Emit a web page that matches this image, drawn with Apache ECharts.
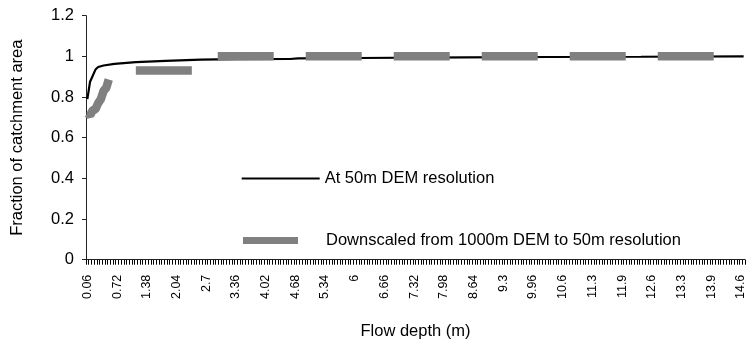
<!DOCTYPE html>
<html>
<head>
<meta charset="utf-8">
<script src="https://cdn.jsdelivr.net/npm/echarts@6/dist/echarts.min.js"></script>
<style>
  html, body { margin: 0; padding: 0; background: #fff; }
  #chart { width: 749px; height: 341px; }
</style>
</head>
<body>
<div id="chart"></div>
<script>
// flow depth categories: 0.06 m steps, 0.06 .. 14.64
const depthCategories = [];
for (let i = 1; i <= 244; i++) depthCategories.push((i * 6 / 100).toFixed(2));

// At 50m DEM resolution (read at selected depths)
const fineDepth = ["0.06", "0.12", "0.18", "0.24", "0.30", "0.42", "0.66", "1.14", "1.80",
  "2.58", "3.36", "4.56", "4.74", "6.06", "8.46", "10.32", "12.36", "14.64"];
const fineValues = [0.79, 0.875, 0.905, 0.935, 0.948, 0.955, 0.963, 0.972, 0.978,
  0.984, 0.986, 0.987, 0.99, 0.992, 0.995, 0.997, 0.998, 1.0];

// Downscaled from 1000m DEM to 50m resolution
const coarseDepth = ["0.06", "0.12", "0.18", "0.24", "0.30", "0.36", "0.42", "0.48", "0.54",
  "0.66", "2.52", "2.82", "14.64"];
const coarseValues = [0.72, 0.71, 0.735, 0.74, 0.77, 0.79, 0.83, 0.845, 0.89,
  0.93, 0.93, 1.0, 1.0];

const yTicks = { min: 0, max: 1.2, interval: 0.2 };

const font = "Liberation Sans";

const chart = echarts.init(document.getElementById("chart"));
const option = {
  animation: false,
  textStyle: { fontFamily: font, color: "#000" },
  grid: { left: 86, right: 4, top: 15.7, bottom: 81.3, outerBoundsMode: "none", containLabel: false },
  legend: [
    {
      data: ["At 50m DEM resolution"],
      left: 241.7, top: 170, padding: 0,
      icon: "rect", itemWidth: 78, itemHeight: 2,
      textStyle: { fontFamily: font, fontSize: 16.5, color: "#000" },
    },
    {
      data: ["Downscaled from 1000m DEM to 50m resolution"],
      left: 243, top: 232, padding: 0,
      icon: "rect", itemWidth: 55, itemHeight: 7,
      textStyle: { fontFamily: font, fontSize: 16.5, color: "#000", padding: [0, 0, 0, 23] },
    },
  ],
  xAxis: {
    type: "category",
    data: depthCategories,
    name: "Flow depth (m)",
    nameLocation: "middle",
    nameGap: 63,
    nameTextStyle: { fontFamily: font, fontSize: 16.5, color: "#000" },
    axisLine: { onZero: false, lineStyle: { color: "#222" } },
    axisTick: { show: true, interval: 0, length: 5, lineStyle: { color: "#000" } },
    axisLabel: {
      interval: 10,
      rotate: 90,
      margin: 15,
      color: "#000",
      fontFamily: font,
      fontSize: 12.5,
      formatter: (v) => String(Number(Number(v).toPrecision(3))),
    },
    splitLine: { show: false },
  },
  yAxis: {
    type: "value",
    min: yTicks.min,
    max: yTicks.max,
    interval: yTicks.interval,
    name: "Fraction of catchment area",
    nameLocation: "middle",
    nameGap: 60,
    nameTextStyle: { fontFamily: font, fontSize: 16.5, color: "#000" },
    axisLine: { show: true, lineStyle: { color: "#222" } },
    axisTick: { show: true, length: 4, lineStyle: { color: "#222" } },
    axisLabel: { fontFamily: font, fontSize: 16.5, color: "#000", margin: 12 },
    splitLine: { show: false },
  },
  series: [
    {
      name: "At 50m DEM resolution",
      type: "line",
      data: fineDepth.map((d, i) => [d, fineValues[i]]),
      symbol: "none",
      itemStyle: { color: "#000" },
      lineStyle: { color: "#000", width: 2.2 },
    },
    {
      name: "Downscaled from 1000m DEM to 50m resolution",
      type: "line",
      data: coarseDepth.map((d, i) => [d, coarseValues[i]]),
      symbol: "none",
      itemStyle: { color: "#808080" },
      lineStyle: { color: "#808080", width: 8.5, type: [56, 32], dashOffset: 11, cap: "butt" },
    },
  ],
};
chart.setOption(option);
</script>
</body>
</html>
